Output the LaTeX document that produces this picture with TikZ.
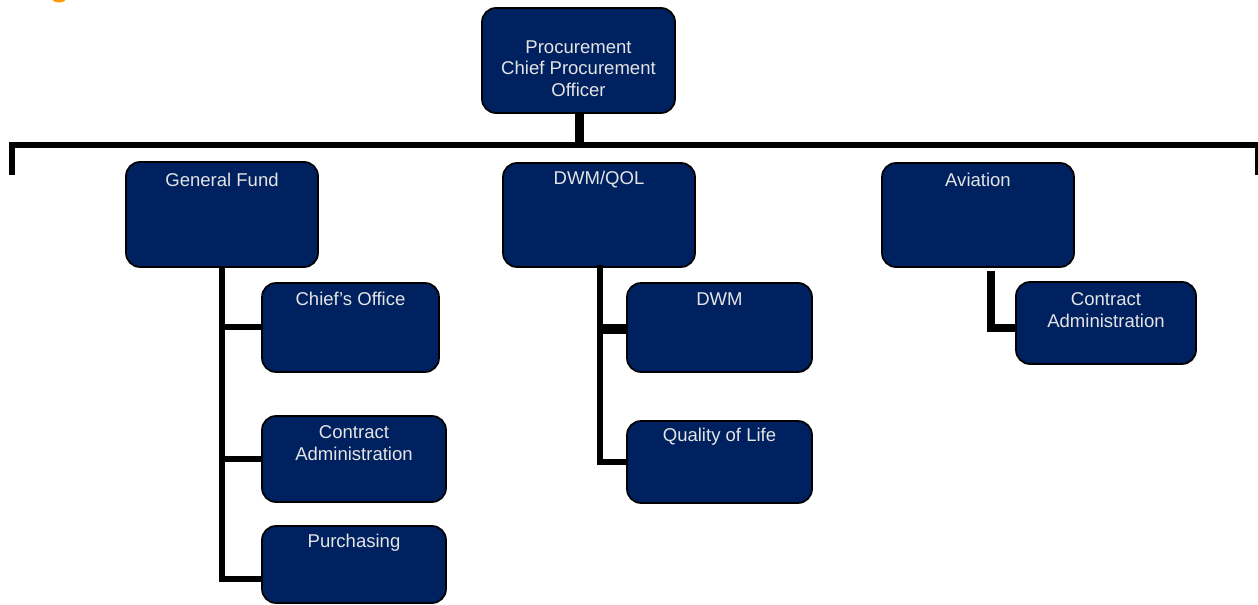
\documentclass[tikz,border=0pt]{standalone}
\usepackage{fontspec}
\setmainfont{Liberation Sans}
\usetikzlibrary{calc}
\definecolor{navy}{RGB}{0,33,96}
\definecolor{boxtext}{RGB}{228,228,228}
\definecolor{blob}{RGB}{255,153,0}
\tikzset{
  orgbox/.style={draw=black, fill=navy, line width=1.3pt, rounded corners=10.5pt, inner sep=0pt},
  boxlabel/.style={text=boxtext, align=center, inner sep=0pt, font=\fontsize{13.9}{16.2}\selectfont},
  conn/.style={draw=black, line width=4.5pt, line join=miter},
}
\begin{document}
\begin{tikzpicture}[x=0.75pt, y=-0.75pt]
\useasboundingbox (0,0) rectangle (1258,605);
% small cropped orange mark at the top edge
\fill[blob] (59,-1.5) ellipse [x radius=7, y radius=4];

% boxes
\node[orgbox, minimum width=144.75pt, minimum height=78.75pt] (top) at (578.5,60.5) {};
\node[orgbox, minimum width=144pt, minimum height=78.75pt] (gf) at (222,214.5) {};
\node[orgbox, minimum width=144pt, minimum height=78pt] (dq) at (599,215) {};
\node[orgbox, minimum width=144pt, minimum height=78pt] (av) at (978,215) {};
\node[orgbox, minimum width=132.75pt, minimum height=66.75pt] (co) at (350.5,327.5) {};
\node[orgbox, minimum width=138pt, minimum height=64.5pt] (ca1) at (354,459) {};
\node[orgbox, minimum width=138pt, minimum height=57.75pt] (pu) at (354,564.5) {};
\node[orgbox, minimum width=138.75pt, minimum height=66.75pt] (dwm) at (719.5,327.5) {};
\node[orgbox, minimum width=138.75pt, minimum height=61.5pt] (qol) at (719.5,462) {};
\node[orgbox, minimum width=135pt, minimum height=61.5pt] (ca2) at (1106,323) {};

% labels
\node[boxlabel] (topT) at (578.5,68.5) {Procurement\\Chief Procurement\\Officer};
\node[boxlabel] (gfT) at (222,180) {General Fund};
\node[boxlabel] (dqT) at (599,180) {DWM/QOL};
\node[boxlabel] (avT) at (978,180) {Aviation};
\node[boxlabel] (coT) at (350.5,299) {Chief’s Office};
\node[boxlabel] (ca1T) at (354,443) {Contract\\Administration};
\node[boxlabel] (puT) at (354,543) {Purchasing};
\node[boxlabel] (dwmT) at (719.5,299) {DWM};
\node[boxlabel] (qolT) at (719.5,437) {Quality of Life};
\node[boxlabel] (ca2T) at (1106,310) {Contract\\Administration};

% top bar
\coordinate (bj) at (579.5,145.5);
\coordinate (bl) at (12,175);
\coordinate (br) at (1258,175);
\draw[conn, line width=6.75pt] ($(top.south)+(1,0)$) -- (bj);
\draw[conn] (bl) |- (br |- bj) -- (br);

% General Fund branch
\draw[conn] (gf.south) |- ($(pu.west)+(0,14.5)$);
\draw[conn] (co.west -| gf.south) -- (co.west);
\draw[conn] (ca1.west -| gf.south) -- (ca1.west);

% DWM/QOL branch
\draw[conn] ($(dq.south)+(1,-3)$) |- (qol.west);
\draw[conn, line width=8pt] ($(dwm.west)+(-27,1.5)$) -- ($(dwm.west)+(0,1.5)$);

% Aviation branch
\draw[conn, line width=6pt] ($(av.south)+(13,3)$) |- ($(ca2.west)+(0,5)$);
\end{tikzpicture}
\end{document}
